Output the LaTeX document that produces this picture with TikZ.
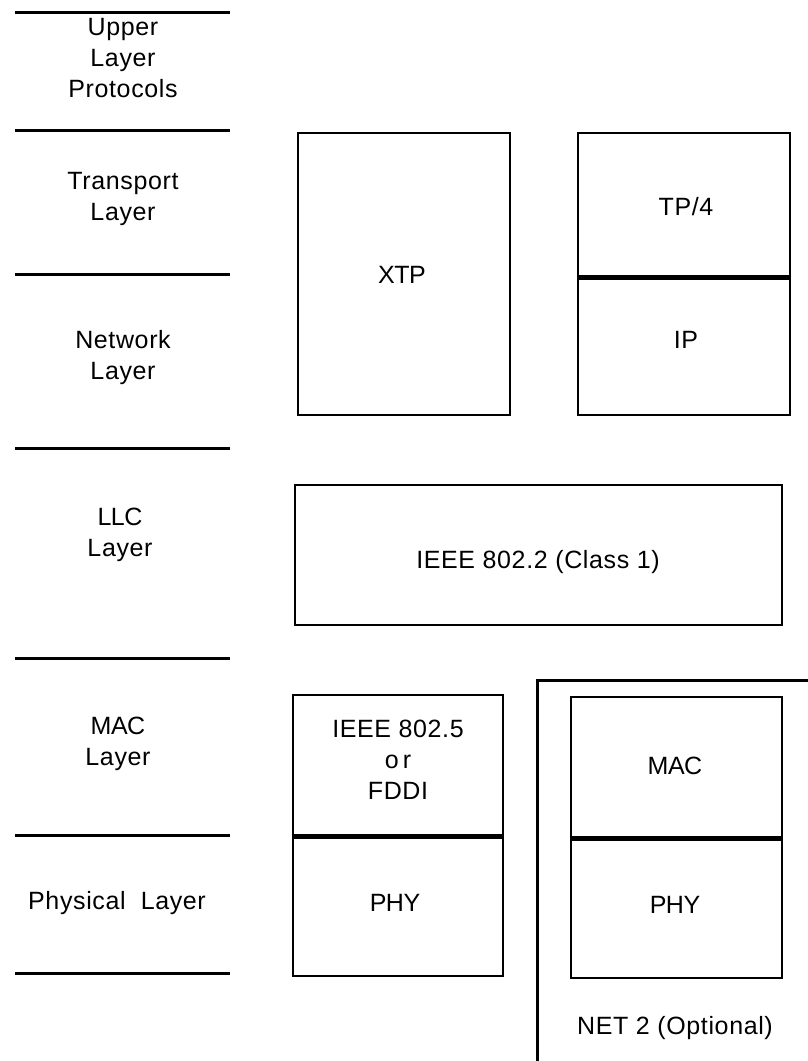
\documentclass[tikz,border=0pt]{standalone}
\usepackage{fontspec}
\setmainfont{Liberation Sans}[LetterSpace=2.5]
\newfontfamily\tightfont{Liberation Sans}[LetterSpace=-2]
\begin{document}
\begin{tikzpicture}[x=1pt,y=-1pt,
  every node/.style={font=\fontsize{25}{31}\selectfont, align=center, inner sep=0pt},
  rule/.style={line width=3pt},
  box/.style={draw, line width=2.8pt},
  divider/.style={line width=4.5pt},
  lbl/.style={}]
\useasboundingbox (0,0) rectangle (808,1061);
% left layer rules
\foreach \y [count=\i] in {12,130,274,448,658,835,973}
  \draw[rule] (15,\y) coordinate (l\i a) -- (230,\y) coordinate (l\i b);
% left labels
\node[lbl] (ulp) at (123,58) {Upper\\Layer\\Protocols};
\node[lbl] (tl) at (123,199) {Transport\\Layer};
\node[lbl] (nl) at (123,358) {Network\\Layer};
\node[lbl] (llcl) at (120,535) {{\tightfont LLC}\\Layer};
\node[lbl] (macl) at (118,744) {{\tightfont MAC}\\Layer};
\node[lbl] (phyl) at (117,903) {Physical\ \ Layer};
% XTP
\node[box, minimum width=212pt, minimum height=282pt] (xtp) at (404,274) {};
\node (xtpt) at (402,275) {\tightfont XTP};
% TP/4 and IP
\node[box, minimum width=212pt, minimum height=143pt] (tp4) at (684,204.5) {};
\node (tp4t) at (686,207) {TP/4};
\node[box, minimum width=212pt, minimum height=139pt] (ip) at (684,345.5) {};
\node (ipt) at (686,340) {IP};
\draw[divider] (tp4.south west) -- (tp4.south east);
% LLC
\node[box, minimum width=487pt, minimum height=140pt] (llc) at (538.5,555) {};
\node (llct) at (538,562) {IEEE 802.2 (Class 1)};
% IEEE 802.5 / PHY
\node[box, minimum width=210pt, minimum height=140pt] (mac1) at (398,765) {};
\node (mac1t) at (398,760) {IEEE 802.5\\o\,r\\FDDI};
\node[box, minimum width=210pt, minimum height=141pt] (phy1) at (398,905.5) {};
\node (phy1t) at (395,903) {\tightfont PHY};
\draw[divider] (mac1.south west) -- (mac1.south east);
% NET 2 frame
\coordinate (n2tr) at (808,680);
\coordinate (n2tl) at (537,680);
\coordinate (n2bl) at (537,1061);
\draw[line width=3pt] (n2tr) -- (n2tl) -- (n2bl);
\node[box, minimum width=211pt, minimum height=140pt] (mac2) at (676.5,767) {};
\node (mac2t) at (675,766) {\tightfont MAC};
\node[box, minimum width=211pt, minimum height=141pt] (phy2) at (676.5,907.5) {};
\node (phy2t) at (675,905) {\tightfont PHY};
\draw[divider] (mac2.south west) -- (mac2.south east);
\node (net2) at (675,1028) {NET 2 (Optional)};
\end{tikzpicture}
\end{document}
